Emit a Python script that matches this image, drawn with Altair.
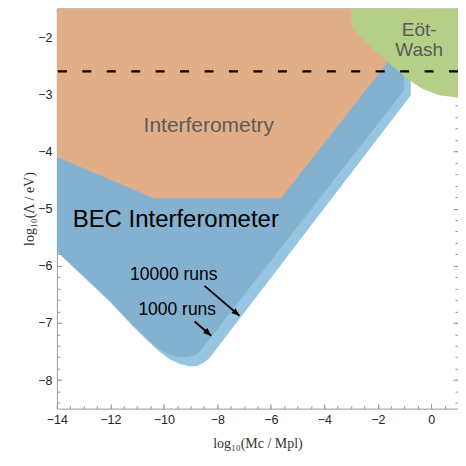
import altair as alt
import pandas as pd

# ---------------- data ----------------
X_DOMAIN = [-14, 1]
Y_DOMAIN = [-8.5, -1.5]
Y_TOP = -1.5

x_major = [-14, -12, -10, -8, -6, -4, -2, 0]
y_major = [-8, -7, -6, -5, -4, -3, -2]
x_minor = [v / 2 for v in range(-28, 3)]
y_minor = [v / 5 for v in range(-42, -7)]

# BEC interferometer, 10000 runs (outer, light) lower boundary
light_x = [-14.0, -12.022, -11.153, -10.530, -10.157, -9.784, -9.410, -9.037,
           -8.739, -8.515, -8.291, -0.765]
light_y = [-5.754, -6.632, -7.063, -7.347, -7.505, -7.635, -7.719, -7.761,
           -7.754, -7.697, -7.615, -3.019]

# BEC interferometer, 1000 runs (inner, dark) lower boundary
dark_x = [-14.0, -12.022, -11.153, -10.530, -10.157, -9.858, -9.522, -9.187,
          -8.888, -8.701, -8.590, -1.015]
dark_y = [-5.742, -6.606, -7.042, -7.321, -7.461, -7.540, -7.592, -7.601,
          -7.574, -7.522, -7.461, -2.931]

# Atom interferometry exclusion, lower boundary
interf_x = [-14.0, -10.38, -5.62, -0.05]
interf_y = [-4.10, -4.82, -4.82, -1.5]

# Eot-Wash exclusion, lower boundary
eot_x = [-3.0, -2.85, -2.69, -2.20, -1.64, -1.26, -0.83, -0.33, 0.29, 0.97, 1.0]
eot_y = [-1.797, -1.90, -1.971, -2.203, -2.437, -2.582, -2.757, -2.902, -3.019, -3.059, -3.06]

dashed_y = [-2.6]

# annotations
arrow_start_x = [-8.478, -8.851]
arrow_start_y = [-6.352, -6.976]
arrow_tip_x = [-7.172, -8.228]
arrow_tip_y = [-6.876, -7.225]
run_labels = ["10000 runs", "1000 runs"]
run_label_x = [-9.63, -9.50]
run_label_y = [-6.248, -6.859]

# ---------------- styling ----------------
C_LIGHT = "#95c5e1"
C_DARK = "#84b1cf"
C_ORANGE = "#e1ae88"
C_GREEN = "#b5cf87"
FRAME = "#9a9a9a"
SANS = "Liberation Sans"

xs = alt.Scale(domain=X_DOMAIN, nice=False, zero=False)
ys = alt.Scale(domain=Y_DOMAIN, nice=False, zero=False)

common = dict(domain=False, grid=False, tickColor=FRAME, tickWidth=1)

ax_x_major = alt.Axis(orient="bottom", values=x_major, offset=-5, tickSize=5,
                      labelPadding=5, labelFont=SANS, labelFontSize=12.5,
                      labelColor="#222", labelFlush=False, labelOverlap=False,
                      title="log₁₀(Mc / Mpl)", titleFont="Liberation Serif",
                      titleFontSize=14, titleFontWeight="normal",
                      titleColor="#333", titlePadding=10, **common)
ax_y_major = alt.Axis(orient="left", values=y_major, offset=-5, tickSize=5,
                      labelPadding=5, labelFont=SANS, labelFontSize=12.5,
                      labelColor="#222", labelFlush=False, labelOverlap=False,
                      title="log₁₀(Λ / eV)", titleFont="Liberation Serif",
                      titleFontSize=14, titleFontWeight="normal",
                      titleColor="#333", titlePadding=1, **common)
ax_x_minor = alt.Axis(orient="bottom", values=x_minor, offset=-3, tickSize=3,
                      labels=False, title=None, **common)
ax_y_minor = alt.Axis(orient="left", values=y_minor, offset=-3, tickSize=3,
                      labels=False, title=None, **common)
ax_x_top = alt.Axis(orient="top", values=x_major, offset=-5, tickSize=5,
                    labels=False, title=None, **common)
ax_y_right = alt.Axis(orient="right", values=y_major, offset=-5, tickSize=5,
                      labels=False, title=None, **common)
ax_x_top_minor = alt.Axis(orient="top", values=x_minor, offset=-3, tickSize=3,
                          labels=False, title=None, **common)
ax_y_right_minor = alt.Axis(orient="right", values=y_minor, offset=-3, tickSize=3,
                            labels=False, title=None, **common)


def region(xv, yv, color, ax_x, ax_y):
    df = pd.DataFrame({"x": xv, "y": yv, "top": [Y_TOP] * len(xv)})
    return alt.Chart(df).mark_area(color=color, clip=True, opacity=1).encode(
        x=alt.X("x:Q", scale=xs, axis=ax_x),
        y=alt.Y("y:Q", scale=ys, axis=ax_y),
        y2="top:Q",
    )


light = region(light_x, light_y, C_LIGHT, ax_x_major, ax_y_major)
dark = region(dark_x, dark_y, C_DARK, ax_x_minor, ax_y_minor)
orange = region(interf_x, interf_y, C_ORANGE, ax_x_top, ax_y_right)
green = region(eot_x, eot_y, C_GREEN, ax_x_top_minor, ax_y_right_minor)

dash = alt.Chart(pd.DataFrame({"y": dashed_y})).mark_rule(
    color="black", strokeWidth=2.5, strokeDash=[9, 15.5]
).encode(y=alt.Y("y:Q", scale=ys, axis=None))

bec = alt.Chart(pd.DataFrame({
    "t": ["BEC Interferometer"], "x": [-13.41], "y": [-5.317]})).mark_text(
    font=SANS, fontSize=24, color="black", align="left", baseline="alphabetic"
).encode(x=alt.X("x:Q", scale=xs, axis=None),
         y=alt.Y("y:Q", scale=ys, axis=None), text="t:N")

interf_lbl = alt.Chart(pd.DataFrame({
    "t": ["Interferometry"], "x": [-8.32], "y": [-3.659]})).mark_text(
    font=SANS, fontSize=21, color="#5a5a5a", align="center", baseline="alphabetic"
).encode(x=alt.X("x:Q", scale=xs, axis=None),
         y=alt.Y("y:Q", scale=ys, axis=None), text="t:N")

eot_lbl = alt.Chart(pd.DataFrame({
    "t": ["Eöt-", "Wash"], "x": [-0.45, -0.45], "y": [-1.989, -2.338]})).mark_text(
    font=SANS, fontSize=19, color="#5a5a5a", align="center", baseline="alphabetic"
).encode(x=alt.X("x:Q", scale=xs, axis=None),
         y=alt.Y("y:Q", scale=ys, axis=None), text="t:N")

runs_lbl = alt.Chart(pd.DataFrame({
    "t": run_labels, "x": run_label_x, "y": run_label_y})).mark_text(
    font=SANS, fontSize=17.5, color="black", align="center", baseline="alphabetic"
).encode(x=alt.X("x:Q", scale=xs, axis=None),
         y=alt.Y("y:Q", scale=ys, axis=None), text="t:N")

arrow_rows = []
for i in range(len(arrow_start_x)):
    arrow_rows.append({"id": i, "o": 0, "x": arrow_start_x[i], "y": arrow_start_y[i]})
    arrow_rows.append({"id": i, "o": 1, "x": arrow_tip_x[i], "y": arrow_tip_y[i]})
shafts = alt.Chart(pd.DataFrame(arrow_rows)).mark_line(
    color="black", strokeWidth=1.8
).encode(x=alt.X("x:Q", scale=xs, axis=None),
         y=alt.Y("y:Q", scale=ys, axis=None),
         detail="id:N", order="o:Q")

heads = alt.Chart(pd.DataFrame({"x": arrow_tip_x, "y": arrow_tip_y})).mark_point(
    shape="M0,0L-0.8,2L0.8,2Z", size=64, filled=True, color="black",
    opacity=1, angle=131, strokeWidth=0
).encode(x=alt.X("x:Q", scale=xs, axis=None),
         y=alt.Y("y:Q", scale=ys, axis=None))

chart = alt.layer(
    light, dark, orange, green, dash, interf_lbl, eot_lbl, bec, runs_lbl, shafts, heads
).resolve_axis(x="independent", y="independent").properties(
    width=402, height=401,
    autosize=alt.AutoSizeParams(type="none"),
    padding={"left": 49, "top": 0, "right": 0, "bottom": 52},
).configure_view(stroke=FRAME, strokeWidth=1)

chart.save("out.html", embed_options={"renderer": "svg", "actions": False})
